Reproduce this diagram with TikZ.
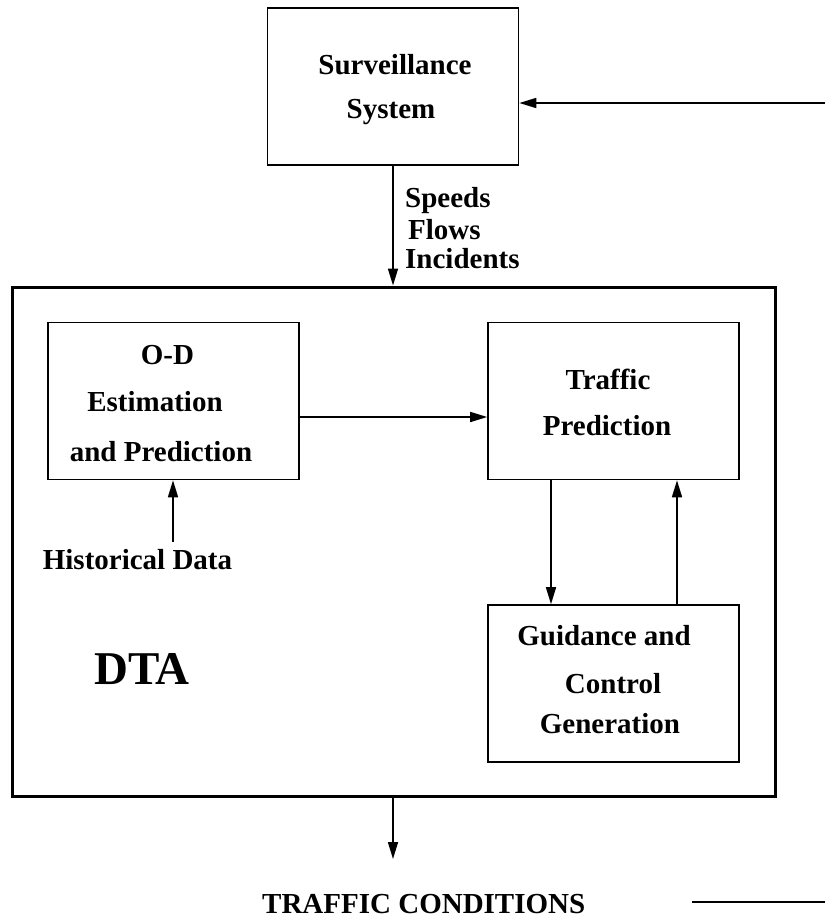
\documentclass[tikz,border=0pt]{standalone}
\usepackage{fontspec}
\setmainfont{Liberation Serif}
\usetikzlibrary{arrows.meta}
\begin{document}
\begin{tikzpicture}[x=1pt,y=-1pt,
  box/.style={draw, line width=1.6pt, minimum width=251pt, minimum height=157pt, inner sep=0pt},
  outerbox/.style={draw, line width=3pt, minimum width=763pt, minimum height=509pt, inner sep=0pt},
  lbl/.style={inner sep=0pt, anchor=base, font=\fontsize{29pt}{34pt}\selectfont\bfseries},
  lblw/.style={lbl, anchor=base west},
  big/.style={inner sep=0pt, anchor=base, font=\fontsize{47pt}{54pt}\selectfont\bfseries},
  arr/.style={line width=1.6pt, -{Triangle[length=17pt,width=10pt]}},
  plain/.style={line width=1.6pt}]
\useasboundingbox (0,0) rectangle (825,919);
% boxes
\node[box] (surv) at (393,86.5) {};
\node[outerbox] (outer) at (393.5,541.5) {};
\node[box] (od) at (173.5,401) {};
\node[box] (tp) at (613.5,401) {};
\node[box] (gc) at (613.5,683.5) {};
% texts
\node[lbl] (t1) at (395,74) {Surveillance};
\node[lbl] (t2) at (391,118) {System};
\node[lblw] (s1) at (405,207) {Speeds};
\node[lblw] (s2) at (408,239) {Flows};
\node[lblw] (s3) at (405,268) {Incidents};
\node[lbl] (o1) at (167.5,364) {O-D};
\node[lbl] (o2) at (155,411) {Estimation};
\node[lbl] (o3) at (161,461) {and Prediction};
\node[lbl] (hist) at (137.5,569) {Historical Data};
\node[lbl] (p1) at (608,389) {Traffic};
\node[lbl] (p2) at (607,435) {Prediction};
\node[lbl] (g1) at (604,645) {Guidance and};
\node[lbl] (g2) at (613,693) {Control};
\node[lbl] (g3) at (610,733) {Generation};
\node[big] (dta) at (142,684) {DTA};
\node[lblw] (tc) at (262,913) {TRAFFIC CONDITIONS};
% connectors
\coordinate (rin) at (825,103);
\draw[arr] (rin) -- (rin -| surv.east);
\draw[arr] (surv.south) -- (surv.south |- outer.north);
\coordinate (odr) at ([yshift=-16pt]od.east);
\draw[arr] (odr) -- (odr -| tp.west);
\coordinate (tpd) at ([xshift=-62.5pt]tp.south);
\draw[arr] (tpd) -- (tpd |- gc.north);
\coordinate (gcu) at ([xshift=63.5pt]gc.north);
\draw[arr] (gcu) -- (gcu |- tp.south);
\coordinate (hs) at (173,542);
\draw[arr] (hs) -- (hs |- od.south);
\coordinate (tcend) at (393,859);
\draw[arr] (tcend |- outer.south) -- (tcend);
\coordinate (l1) at (692,902);
\coordinate (l2) at (825,902);
\draw[plain] (l1) -- (l2);
\end{tikzpicture}
\end{document}
